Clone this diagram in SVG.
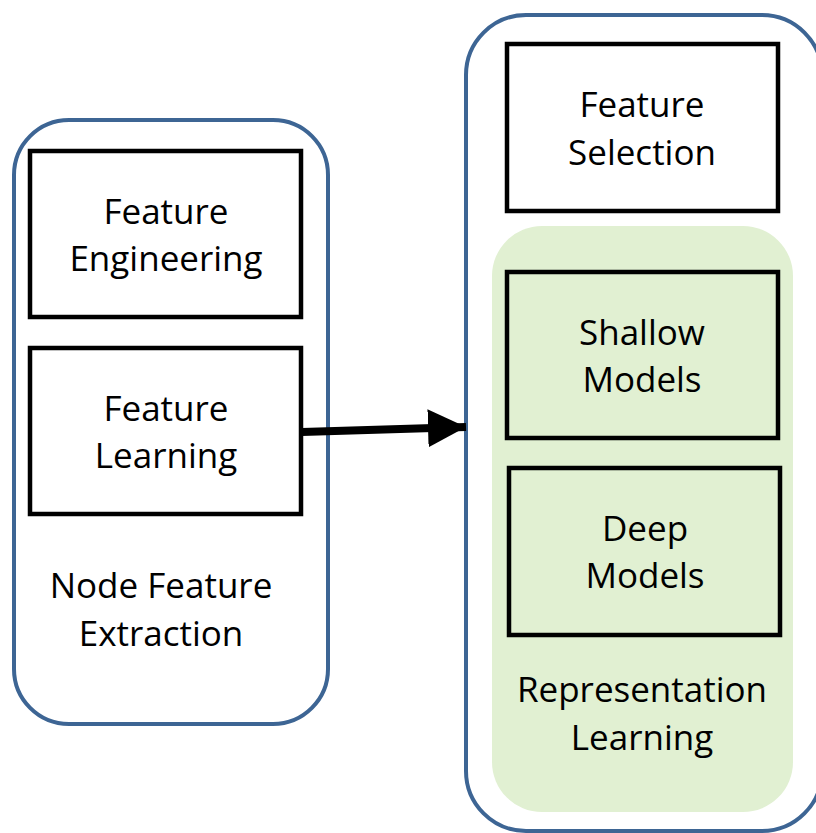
<svg xmlns="http://www.w3.org/2000/svg" width="816" height="833" viewBox="0 0 816 833">
<style>
.cont{fill:#fff;stroke:#3D6594;stroke-width:4}
.box{fill:#fff;stroke:#000;stroke-width:4.5}
.gbox{fill:#E1F0D2;stroke:#000;stroke-width:4.5}
.t{font-family:"Open Sans",sans-serif;font-size:35px;fill:#000;text-anchor:middle}
</style>
<defs>
<marker id="ah" markerUnits="userSpaceOnUse" markerWidth="40" markerHeight="40" refX="38" refY="19" orient="auto">
<path d="M0,0 L38,19 L0,38 Z" fill="#000"/>
</marker>
</defs>
<g id="node-feature-extraction">
<rect class="cont" x="14" y="120" width="314" height="604" rx="55"/>
<text class="t" x="161" y="598">Node Feature</text>
<text class="t" x="161" y="646">Extraction</text>
</g>
<g id="feature-engineering">
<rect class="box" x="30" y="151" width="271" height="166"/>
<text class="t" x="166" y="224">Feature</text>
<text class="t" x="166" y="271">Engineering</text>
</g>
<g id="feature-learning">
<rect class="box" x="30" y="348" width="271" height="166"/>
<text class="t" x="166" y="421">Feature</text>
<text class="t" x="166" y="468">Learning</text>
</g>
<g id="right-container">
<rect class="cont" x="466" y="15" width="356" height="816" rx="60"/>
</g>
<g id="feature-selection">
<rect class="box" x="507" y="44" width="271" height="167"/>
<text class="t" x="642" y="117">Feature</text>
<text class="t" x="642" y="165">Selection</text>
</g>
<g id="representation-learning">
<rect x="492" y="226" width="301" height="586" rx="50" fill="#E1F0D2"/>
<text class="t" x="642" y="702">Representation</text>
<text class="t" x="642" y="750">Learning</text>
</g>
<g id="shallow-models">
<rect class="gbox" x="507" y="272" width="271" height="166"/>
<text class="t" x="642" y="345">Shallow</text>
<text class="t" x="642" y="392">Models</text>
</g>
<g id="deep-models">
<rect class="gbox" x="509" y="468" width="271" height="167"/>
<text class="t" x="645" y="541">Deep</text>
<text class="t" x="645" y="588">Models</text>
</g>
<g id="connectors">
<line x1="302" y1="432" x2="466" y2="427" stroke="#000" stroke-width="8" marker-end="url(#ah)"/>
</g>
</svg>
